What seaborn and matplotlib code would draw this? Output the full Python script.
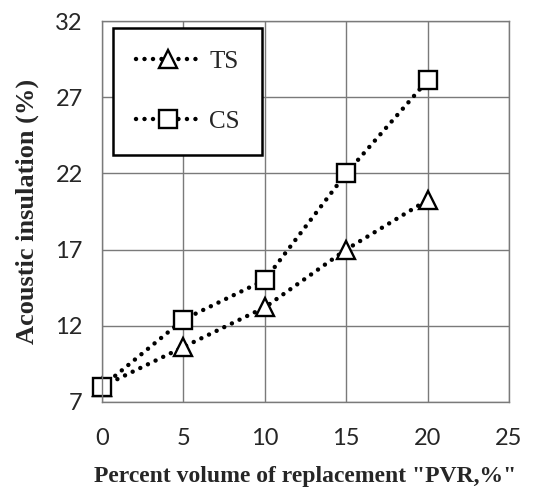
import pandas as pd
import matplotlib.pyplot as plt
import seaborn as sns

# values
pvr = [0, 5, 10, 15, 20]
ts = [8.0, 10.6, 13.2, 17.0, 20.25]
cs = [8.0, 12.4, 15.0, 22.0, 28.1]

df_ts = pd.DataFrame({'pvr': pvr, 'val': ts})
df_cs = pd.DataFrame({'pvr': pvr, 'val': cs})

sns.set_theme(style="white")
plt.rcParams['font.family'] = ['Liberation Serif', 'DejaVu Serif']

fig = plt.figure(figsize=(5.49, 4.90), dpi=100)
ax = fig.add_axes([0.186, 0.180, 0.741, 0.777])

dots = (0, (0.01, 1.9))
common = dict(x='pvr', y='val', color='black', linewidth=3.2,
              markersize=13, markerfacecolor='white', markeredgecolor='black',
              markeredgewidth=1.7, clip_on=False, dash_capstyle='round')

sns.lineplot(data=df_ts, marker='^', label='TS', ax=ax, **common)
sns.lineplot(data=df_cs, marker='s', label='CS', ax=ax, **common)
for ln in ax.lines:
    ln.set_linestyle(dots)
    ln.set_dash_capstyle('round')

ax.set_xlim(0, 25)
ax.set_ylim(7, 32)
ax.set_xticks([0, 5, 10, 15, 20, 25])
ax.set_yticks([7, 12, 17, 22, 27, 32])
ax.grid(True, color='#7a7a7a', linewidth=1.0)
ax.set_axisbelow(True)
for sp in ax.spines.values():
    sp.set_color('#7a7a7a')
    sp.set_linewidth(1.0)

ax.tick_params(axis='both', length=0, labelsize=17)
ax.tick_params(axis='x', pad=19)
ax.tick_params(axis='y', pad=14)
for lab in ax.get_xticklabels() + ax.get_yticklabels():
    lab.set_family(['Lato', 'DejaVu Sans'])

ax.set_xlabel('Percent volume of replacement "PVR,%"', fontsize=17,
              fontweight='bold', labelpad=12)
ax.set_ylabel('Acoustic insulation (%)', fontsize=19, fontweight='bold',
              labelpad=12)

leg = ax.legend(loc='upper left', bbox_to_anchor=(0.027, 0.982), fontsize=18,
                frameon=True, fancybox=False, handlelength=2.6,
                borderpad=0.9, labelspacing=1.5, handletextpad=0.35,
                borderaxespad=0)
leg.get_frame().set_edgecolor('black')
leg.get_frame().set_linewidth(1.8)
leg.get_frame().set_facecolor('white')
leg.get_frame().set_alpha(1)
for h in leg.get_lines():
    h.set_linestyle(dots)
    h.set_dash_capstyle('round')

fig.savefig('out.png', dpi=100)
